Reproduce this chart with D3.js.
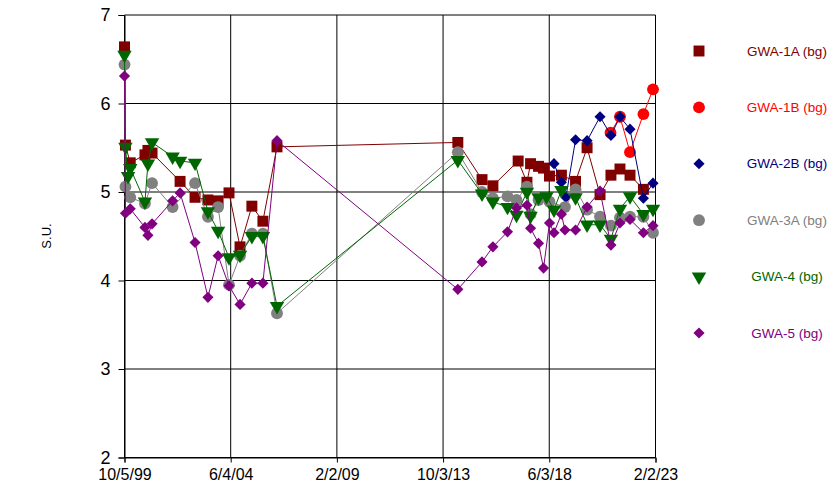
<!DOCTYPE html>
<html><head><meta charset="utf-8">
<script src="https://cdn.jsdelivr.net/npm/d3@7"></script>
<style>body{margin:0;background:#fff;font-family:"Liberation Sans",Arial,sans-serif}</style>
</head><body><svg id="c" width="833" height="489"></svg>
<script>
const xTickLabels = ["1999-10-05","2004-06-04","2009-02-02","2013-10-03","2018-06-03","2023-02-02"];
const yTicks = [2,3,4,5,6,7];

const gwa1aDates = ["1999-10-05","1999-10-20","2000-01-05","2000-08-28","2000-10-15","2000-12-20","2002-03-15","2002-11-10","2003-06-05","2003-11-15","2004-05-08","2004-11-01","2005-05-10","2005-11-03","2006-06-17","2014-05-28","2015-06-20","2015-12-12","2017-01-20","2017-06-10","2017-08-07","2017-12-13","2018-03-03","2018-06-07","2018-12-15","2019-07-30","2020-01-31","2020-08-26","2021-02-17","2021-07-12","2021-12-20","2022-07-23"];
const gwa1aValues = [6.64,5.53,5.33,5.42,5.47,5.44,5.12,4.94,4.91,4.90,4.99,4.38,4.84,4.67,5.51,5.56,5.14,5.07,5.35,5.11,5.32,5.29,5.27,5.18,5.19,5.12,5.50,4.97,5.19,5.26,5.19,5.03];

const gwa1bDates = ["2021-02-10","2021-07-12","2021-12-20","2022-07-23","2022-12-24"];
const gwa1bValues = [5.67,5.85,5.45,5.88,6.16];

const gwa2bDates = ["2018-08-18","2018-12-15","2019-02-25","2019-07-30","2020-01-31","2020-08-26","2021-02-17","2021-07-12","2021-12-20","2022-07-23","2022-12-24"];
const gwa2bValues = [5.32,5.11,4.94,5.59,5.58,5.85,5.64,5.85,5.71,4.93,5.10];

const gwa3aDates = ["1999-10-05","1999-10-20","2000-01-05","2000-08-28","2000-12-20","2001-11-15","2002-11-10","2003-06-05","2003-11-15","2004-05-08","2004-11-01","2005-05-10","2005-11-03","2006-06-17","2014-05-28","2015-06-20","2015-12-12","2016-08-02","2016-12-25","2017-06-10","2017-08-07","2017-12-13","2018-06-07","2019-02-10","2019-07-30","2020-01-31","2020-08-26","2021-02-17","2021-07-12","2021-12-20","2022-07-23","2022-12-24"];
const gwa3aValues = [6.44,5.06,4.94,4.87,5.10,4.83,5.10,4.72,4.83,3.95,4.28,4.53,4.53,3.63,5.45,5.00,4.93,4.95,4.91,5.06,4.75,4.91,4.89,4.83,5.03,4.80,4.72,4.62,4.71,4.72,4.72,4.54];

const gwa4Dates = ["1999-10-05","1999-10-20","1999-12-01","2000-01-05","2000-08-28","2000-10-15","2000-12-20","2001-11-15","2002-03-15","2002-11-10","2003-06-05","2003-11-15","2004-05-08","2004-11-01","2005-05-10","2005-11-03","2006-06-17","2014-05-28","2015-06-20","2015-12-12","2016-08-02","2016-12-25","2017-06-10","2017-08-07","2017-12-13","2018-04-20","2018-08-18","2018-12-15","2019-07-30","2020-01-31","2020-08-26","2021-02-17","2021-07-12","2021-12-20","2022-07-23","2022-12-24"];
const gwa4Values = [6.55,5.51,5.18,5.27,4.89,5.32,5.56,5.40,5.35,5.33,4.78,4.56,4.26,4.29,4.50,4.50,3.71,5.36,4.98,4.89,4.83,4.74,5.00,4.73,4.94,4.95,4.80,5.02,4.94,4.63,4.63,4.47,4.81,4.95,4.75,4.81];

const gwa5Dates = ["1999-10-05","1999-10-20","2000-01-05","2000-08-28","2000-10-15","2000-12-20","2001-11-15","2002-03-15","2002-11-10","2003-06-05","2003-11-15","2004-05-08","2004-11-01","2005-05-10","2005-11-03","2006-06-17","2014-05-28","2015-06-20","2015-12-12","2016-08-02","2016-12-25","2017-06-10","2017-08-07","2017-12-13","2018-03-03","2018-06-07","2018-08-18","2018-12-15","2019-02-10","2019-07-30","2020-01-31","2020-08-26","2021-02-17","2021-07-12","2021-12-20","2022-07-23","2022-12-24"];
const gwa5Values = [6.31,4.76,4.81,4.60,4.51,4.64,4.90,4.99,4.43,3.81,4.28,3.94,3.73,3.97,3.97,5.58,3.90,4.21,4.38,4.55,4.82,4.85,4.59,4.42,4.14,4.65,4.54,4.75,4.57,4.57,4.83,5.01,4.40,4.65,4.69,4.54,4.62];

const seriesNames = ["GWA-1A (bg)","GWA-1B (bg)","GWA-2B (bg)","GWA-3A (bg)","GWA-4 (bg)","GWA-5 (bg)"];
const seriesColors = ["#800000","#ff0000","#000080","#808080","#006600","#800080"];
const seriesShapes = ["square","circle","diamond","circle","triangle","diamond"];
const seriesDates = [gwa1aDates,gwa1bDates,gwa2bDates,gwa3aDates,gwa4Dates,gwa5Dates];
const seriesValues = [gwa1aValues,gwa1bValues,gwa2bValues,gwa3aValues,gwa4Values,gwa5Values];

const parse = d3.timeParse("%Y-%m-%d");
const svg = d3.select("#c");
const L = 124.5, R = 655.5, T = 15, B = 457.5;
const x = d3.scaleTime().domain([parse(xTickLabels[0]), parse(xTickLabels[5])]).range([L, R]);
const y = d3.scaleLinear().domain([2,7]).range([B, T]);

// gridlines
svg.append("g").selectAll("line").data(yTicks).join("line")
  .attr("x1", L).attr("x2", R).attr("y1", d=>y(d)).attr("y2", d=>y(d))
  .attr("stroke","#000").attr("stroke-width",1);
svg.append("g").selectAll("line").data(xTickLabels).join("line")
  .attr("x1", d=>x(parse(d))).attr("x2", d=>x(parse(d))).attr("y1", T).attr("y2", B)
  .attr("stroke","#000").attr("stroke-width",1);

// axes
const fmt = d3.timeFormat("%-m/%-d/%y");
const xAxis = svg.append("g").attr("transform",`translate(0,${B})`)
  .call(d3.axisBottom(x).tickValues(xTickLabels.map(parse)).tickFormat(fmt).tickSize(5).tickPadding(6));
xAxis.selectAll("text").attr("font-size","16px").attr("fill","#000").attr("font-family","Liberation Sans, Arial, sans-serif");
const yAxis = svg.append("g").attr("transform",`translate(${L},0)`)
  .call(d3.axisLeft(y).tickValues(yTicks).tickFormat(d3.format("d")).tickSize(6).tickPadding(8));
yAxis.selectAll("text").attr("font-size","18px").attr("fill","#000").attr("font-family","Liberation Sans, Arial, sans-serif");
[xAxis,yAxis].forEach(a=>{a.selectAll("path,line").attr("stroke","#000");});

svg.append("text").attr("transform","translate(51,236) rotate(-90)")
  .attr("text-anchor","middle").attr("font-size","13px").attr("fill","#000").text("S.U.");

const sym = {square:d3.symbolSquare, circle:d3.symbolCircle, diamond:d3.symbolSquare, triangle:d3.symbolTriangle};
const sizes = {square:120, circle:110, diamond:62, triangle:90};
const rot = {square:"", circle:"", diamond:" rotate(45)", triangle:" rotate(180)"};

const line = d3.line().x(d=>x(d.date)).y(d=>y(d.v));
seriesNames.forEach((name,i)=>{
  const shp = seriesShapes[i];
  const data = seriesDates[i].map((d,j)=>({date:parse(d), v:seriesValues[i][j]}));
  const g = svg.append("g");
  g.append("path").datum(data).attr("d", line).attr("fill","none").attr("stroke", seriesColors[i]).attr("stroke-width",1);
  g.selectAll("path.m").data(data).join("path").attr("class","m")
    .attr("d", d3.symbol(sym[shp], sizes[shp])())
    .attr("transform", d=>`translate(${x(d.date)},${y(d.v)})` + rot[shp])
    .attr("fill", seriesColors[i]);
  // legend
  const ly = 51 + i*56.4;
  svg.append("path").attr("d", d3.symbol(sym[shp], sizes[shp])())
    .attr("transform", `translate(699,${ly})` + rot[shp])
    .attr("fill", seriesColors[i]);
  svg.append("text").attr("x",787).attr("y",ly+4.5).attr("text-anchor","middle")
    .attr("font-size","13.5px").attr("fill",seriesColors[i]).text(name);
});
</script></body></html>
